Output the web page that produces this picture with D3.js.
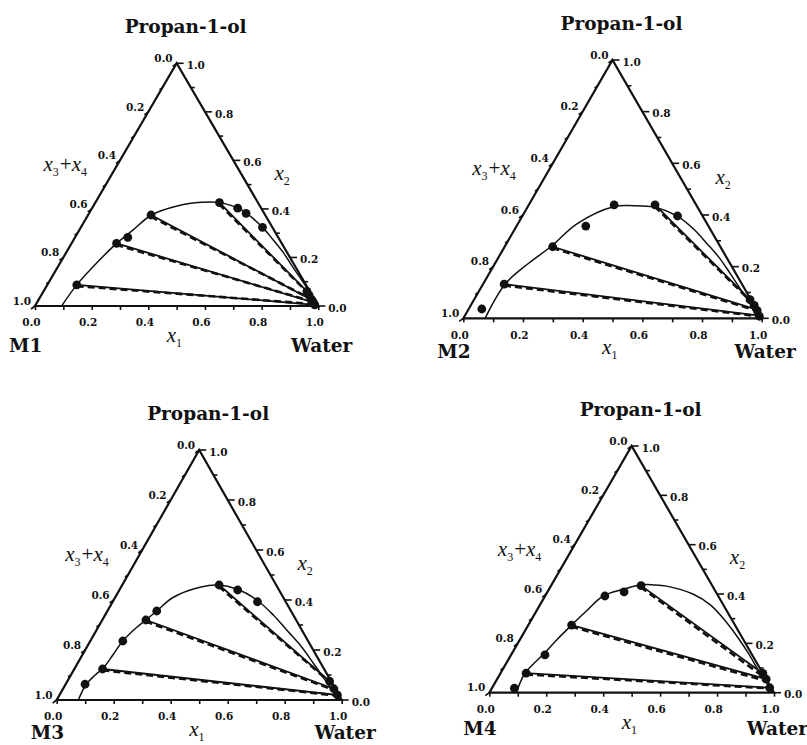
<!DOCTYPE html>
<html><head><meta charset="utf-8">
<script src="https://cdn.jsdelivr.net/npm/d3@7"></script>
<style>body{margin:0;background:#fff}</style>
</head><body>
<svg id="chart" width="807" height="745"></svg>
<script>
// ---------------- DATA ----------------
const panelNames = ["M1", "M2", "M3", "M4"];
const topVertex = "Propan-1-ol";
const rightVertex = "Water";
const tickValues = [0, 0.1, 0.2, 0.3, 0.4, 0.5, 0.6, 0.7, 0.8, 0.9, 1.0];
const tickLabels = ["0.0", "", "0.2", "", "0.4", "", "0.6", "", "0.8", "", "1.0"];

// binodal curves: [x1 (water), x2 (propan-1-ol)]
const binodalM1 = [[0.094,0],[0.104,0.087],[0.13,0.18],[0.159,0.258],[0.19,0.315],[0.224,0.375],[0.299,0.413],[0.374,0.427],[0.433,0.427],[0.531,0.396],[0.641,0.324],[0.705,0.272],[0.77,0.217],[0.83,0.16],[0.89,0.105],[0.935,0.062],[0.975,0.02],[0.995,0]];
const binodalM2 = [[0.073,0],[0.074,0.133],[0.112,0.212],[0.156,0.28],[0.197,0.365],[0.287,0.432],[0.352,0.436],[0.427,0.43],[0.524,0.393],[0.6,0.345],[0.671,0.29],[0.74,0.235],[0.807,0.174],[0.865,0.12],[0.916,0.072],[0.96,0.03],[0.991,0.005]];
const binodalM3 = [[0.076,0],[0.072,0.06],[0.085,0.1],[0.1,0.13],[0.107,0.18],[0.114,0.236],[0.135,0.29],[0.153,0.32],[0.173,0.356],[0.203,0.41],[0.277,0.451],[0.337,0.46],[0.41,0.444],[0.502,0.4],[0.59,0.34],[0.667,0.28],[0.75,0.215],[0.827,0.147],[0.885,0.095],[0.932,0.053],[0.97,0.02],[0.995,0]];
const binodalM4 = [[0.096,0],[0.088,0.04],[0.086,0.079],[0.098,0.12],[0.112,0.156],[0.13,0.215],[0.152,0.274],[0.175,0.33],[0.204,0.392],[0.261,0.419],[0.311,0.437],[0.36,0.437],[0.407,0.432],[0.515,0.40],[0.60,0.355],[0.685,0.29],[0.76,0.225],[0.835,0.155],[0.91,0.08],[0.975,0.02],[0.995,0]];

// experimental points
const pointsM1 = [[0.104,0.087],[0.159,0.258],[0.186,0.283],[0.222,0.375],[0.438,0.426],[0.514,0.403],[0.554,0.382],[0.641,0.324],[0.985,0.005],[0.975,0.015],[0.965,0.025],[0.945,0.045],[0.93,0.06]];
const pointsM2 = [[0.044,0.036],[0.071,0.132],[0.161,0.277],[0.232,0.357],[0.286,0.439],[0.423,0.439],[0.52,0.396],[0.988,0.008],[0.97,0.03],[0.95,0.05],[0.925,0.072]];
const pointsM3 = [[0.068,0.063],[0.099,0.124],[0.114,0.236],[0.153,0.32],[0.173,0.356],[0.34,0.46],[0.415,0.44],[0.508,0.393],[0.975,0.02],[0.95,0.045],[0.92,0.075]];
const pointsM4 = [[0.079,0.018],[0.09,0.079],[0.119,0.153],[0.152,0.274],[0.21,0.392],[0.269,0.409],[0.316,0.434],[0.975,0.02],[0.945,0.055],[0.922,0.078]];

// tie lines: [x1 org, x2 org, x1 aq, x2 aq]
const tieExpM1 = [[0.104,0.087,0.985,0.005],[0.159,0.258,0.975,0.015],[0.222,0.375,0.965,0.025],[0.438,0.426,0.93,0.06]];
const tieCalcM1 = [[0.106,0.082,0.982,0.008],[0.161,0.252,0.972,0.018],[0.225,0.368,0.962,0.028],[0.44,0.42,0.935,0.055]];
const tieExpM2 = [[0.071,0.132,0.988,0.01],[0.161,0.277,0.97,0.033],[0.423,0.439,0.925,0.072]];
const tieCalcM2 = [[0.073,0.127,0.985,0.008],[0.163,0.272,0.967,0.03],[0.425,0.433,0.93,0.066]];
const tieExpM3 = [[0.099,0.124,0.975,0.02],[0.153,0.32,0.95,0.045],[0.34,0.46,0.92,0.075]];
const tieCalcM3 = [[0.101,0.119,0.972,0.018],[0.155,0.314,0.948,0.042],[0.342,0.454,0.925,0.07]];
const tieExpM4 = [[0.09,0.079,0.975,0.02],[0.152,0.274,0.945,0.055],[0.316,0.434,0.922,0.078]];
const tieCalcM4 = [[0.092,0.074,0.972,0.018],[0.154,0.268,0.94,0.05],[0.318,0.428,0.918,0.072]];

const binodals = [binodalM1, binodalM2, binodalM3, binodalM4];
const pointSets = [pointsM1, pointsM2, pointsM3, pointsM4];
const tieExp = [tieExpM1, tieExpM2, tieExpM3, tieExpM4];
const tieCalc = [tieCalcM1, tieCalcM2, tieCalcM3, tieCalcM4];

// ---------------- LAYOUT ----------------
const layout = [
  {bx: 35, by: 306, w: 283.3, h: 242.7, lab: 46},
  {bx: 463.3, by: 318.3, w: 298.4, h: 258.3, lab: 40},
  {bx: 56.7, by: 700, w: 285, h: 250, lab: 39},
  {bx: 489.3, by: 692.7, w: 284.7, h: 246.7, lab: 42}
];
const serif = "'DejaVu Serif', serif";
const times = "'Liberation Serif', 'Times New Roman', serif";

const svg = d3.select("#chart");

panelNames.forEach((name, i) => {
  const L = layout[i];
  const X = d3.scaleLinear().domain([0, 1]).range([L.bx, L.bx + L.w]);
  const Y = d3.scaleLinear().domain([0, 1]).range([L.by, L.by - L.h]);
  const px = (x1, x2) => X(x1 + x2 / 2);
  const py = (x1, x2) => Y(x2);
  const g = svg.append("g");

  // triangle
  const tri = [[0, 0], [1, 0], [0, 1]];
  g.append("path")
    .attr("d", "M" + tri.map(d => px(d[0], d[1]) + "," + py(d[0], d[1])).join("L") + "Z")
    .attr("fill", "none").attr("stroke", "#111").attr("stroke-width", 2.2)
    .attr("stroke-linejoin", "miter");

  // bottom axis (x1)
  const ax = g.append("g").attr("transform", `translate(0,${L.by})`)
    .call(d3.axisBottom(X).tickValues(tickValues)
      .tickFormat((d, k) => tickLabels[k]).tickSize(4).tickPadding(9));
  ax.select(".domain").remove();
  ax.selectAll(".tick line").attr("stroke", "#111").attr("stroke-width", 1.6);
  ax.selectAll(".tick text").attr("font-family", serif).attr("font-weight", "bold")
    .attr("font-size", 10.5).attr("fill", "#111").attr("dx", -4);

  // right axis (x2)
  tickValues.forEach((v, k) => {
    const x = px(1 - v, v), y = py(1 - v, v);
    g.append("line").attr("x1", x).attr("y1", y).attr("x2", x + (k % 2 ? 4 : 7)).attr("y2", y)
      .attr("stroke", "#111").attr("stroke-width", 1.6);
    if (tickLabels[k]) g.append("text").attr("x", x + 10).attr("y", y + 2)
      .attr("dy", "0.36em").attr("font-family", serif).attr("font-weight", "bold")
      .attr("font-size", 10.5).attr("fill", "#111").text(tickLabels[k]);
  });
  // left axis (x3+x4)
  tickValues.forEach((v, k) => {
    const x = px(0, 1 - v), y = py(0, 1 - v);
    g.append("line").attr("x1", x).attr("y1", y).attr("x2", x - (k % 2 ? 3 : 4)).attr("y2", y + (k % 2 ? 2 : 3))
      .attr("stroke", "#111").attr("stroke-width", 1.6);
    if (tickLabels[k]) g.append("text").attr("x", x - 4).attr("y", y - 5)
      .attr("dy", "0.36em").attr("text-anchor", "end").attr("font-family", serif)
      .attr("font-weight", "bold").attr("font-size", 10.5).attr("fill", "#111").text(tickLabels[k]);
  });

  // tie lines
  g.selectAll(".tc").data(tieCalc[i]).join("line")
    .attr("x1", d => px(d[0], d[1])).attr("y1", d => py(d[0], d[1]))
    .attr("x2", d => px(d[2], d[3])).attr("y2", d => py(d[2], d[3]))
    .attr("stroke", "#111").attr("stroke-width", 2.6).attr("stroke-dasharray", "7,4");
  g.selectAll(".te").data(tieExp[i]).join("line")
    .attr("x1", d => px(d[0], d[1])).attr("y1", d => py(d[0], d[1]))
    .attr("x2", d => px(d[2], d[3])).attr("y2", d => py(d[2], d[3]))
    .attr("stroke", "#111").attr("stroke-width", 1.8);

  // binodal curve
  const line = d3.line().x(d => px(d[0], d[1])).y(d => py(d[0], d[1]))
    .curve(d3.curveCatmullRom.alpha(0.5));
  g.append("path").datum(binodals[i]).attr("d", line)
    .attr("fill", "none").attr("stroke", "#111").attr("stroke-width", 1.5);

  // points
  g.selectAll(".pt").data(pointSets[i]).join("circle")
    .attr("cx", d => px(d[0], d[1])).attr("cy", d => py(d[0], d[1]))
    .attr("r", 4.4).attr("fill", "#111");

  // labels
  const topX = px(0, 1), topY = py(0, 1);
  g.append("text").attr("x", topX + 9).attr("y", topY - 30).attr("text-anchor", "middle")
    .attr("font-family", serif).attr("font-weight", "bold").attr("font-size", 18.5)
    .attr("fill", "#111").text(topVertex);
  g.append("text").attr("x", L.bx - 26).attr("y", L.by + L.lab)
    .attr("font-family", serif).attr("font-weight", "bold").attr("font-size", 18.5)
    .attr("fill", "#111").text(name);
  g.append("text").attr("x", L.bx + L.w + 34).attr("y", L.by + L.lab).attr("text-anchor", "end")
    .attr("font-family", serif).attr("font-weight", "bold").attr("font-size", 18.5)
    .attr("fill", "#111").text(rightVertex);

  function varLabel(x, y, parts) {
    const t = g.append("text").attr("x", x).attr("y", y).attr("font-family", times)
      .attr("fill", "#111").attr("font-size", 21);
    parts.forEach(p => {
      const s = t.append("tspan").text(p.t);
      if (p.sub) s.attr("font-size", 12).attr("dy", 5);
      else if (p.after) s.attr("dy", -5).attr("dx", 1);
      if (p.it) s.attr("font-style", "italic");
    });
  }
  varLabel(L.bx + 0.465 * L.w, L.by + 36, [{t: "x", it: true}, {t: "1", sub: true}]);
  varLabel(L.bx + 0.845 * L.w, L.by - 0.52 * L.h, [{t: "x", it: true}, {t: "2", sub: true}]);
  varLabel(L.bx + 0.03 * L.w, L.by - 0.555 * L.h, [{t: "x", it: true}, {t: "3", sub: true}, {t: "+", after: true}, {t: "x", it: true}, {t: "4", sub: true}]);
});
</script>
</body></html>
